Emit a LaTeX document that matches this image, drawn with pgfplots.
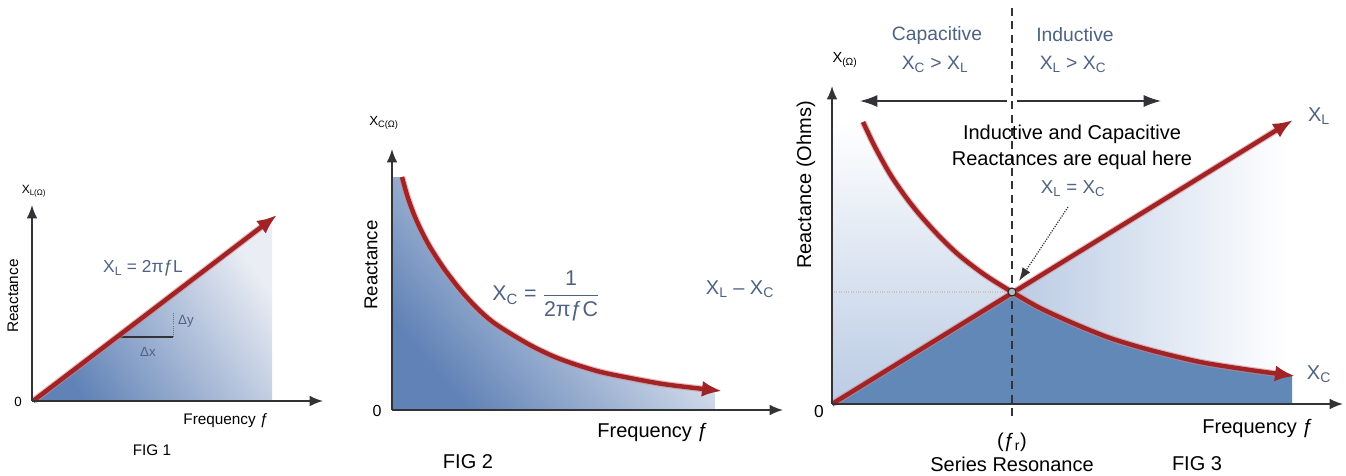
\documentclass[border=0pt]{standalone}
\usepackage{pgfplots}
\pgfplotsset{compat=1.18}
\usepackage{fontspec}
\setmainfont{Liberation Sans}
\usetikzlibrary{arrows.meta}

\definecolor{curve}{RGB}{160,36,38}
\definecolor{halo}{RGB}{220,130,135}
\definecolor{deepfill}{RGB}{98,136,184}
\definecolor{shadeblue}{RGB}{96,130,182}
\definecolor{shadelight}{RGB}{234,237,244}
\definecolor{paleblue}{RGB}{186,203,228}
\definecolor{note}{RGB}{78,98,130}
\definecolor{ink}{RGB}{45,45,48}
\definecolor{axisgray}{RGB}{50,50,55}

\newcommand\fs[1]{\fontsize{#1}{#1}\selectfont}

\begin{document}
\begin{tikzpicture}
\begin{axis}[
  width=1009.5pt, height=355.5pt, scale only axis,
  xmin=0, xmax=1346, ymin=0, ymax=474, y dir=reverse,
  hide axis, clip=false, no markers,
  every node/.append style={text=ink, inner sep=0pt},
  reactance/.style={line width=3.3pt, color=curve, -{Latex[length=15pt,width=12pt]}},
  haloline/.style={line width=5pt, color=halo, opacity=0.55, shorten >=13pt},
  axisline/.style={line width=1.2pt, color=axisgray, -{Latex[length=10pt,width=8pt]}},
]
% page extent
\addplot[draw=none] coordinates {(0,0) (1346,474)};

% ---------------- FIG 1 : inductive reactance ----------------
\addplot[draw=none, top color=shadelight, bottom color=shadeblue, shading angle=-55]
  coordinates {(33,401) (272,219) (272,401)} -- cycle;
\addplot[line width=0.8pt, color=axisgray] coordinates {(117,337) (173,337)};
\addplot[line width=0.6pt, color=axisgray!70, densely dotted] coordinates {(173,337) (173,312)};
\addplot[haloline] coordinates {(33,401) (277,215)};
\addplot[reactance] coordinates {(33,401) (277,215)};
\addplot[axisline] coordinates {(32,401) (32,205)};
\addplot[axisline] coordinates {(32,401) (323,401)};
\node[font=\fs{9}] at (axis cs:34,191) {X\textsubscript{L(Ω)}};
\node[font=\fs{11.5}, rotate=90] at (axis cs:13,296) {Reactance};
\node[font=\fs{10}] at (axis cs:18,402) {0};
\node[font=\fs{13}, text=note] at (axis cs:143,268) {X\textsubscript{L} = 2πƒL};
\node[font=\fs{10}, text=note] at (axis cs:186,321) {Δy};
\node[font=\fs{10}, text=note] at (axis cs:148,352) {Δx};
\node[font=\fs{11.5}] at (axis cs:226,421) {Frequency ƒ};
\node[font=\fs{11.5}] at (axis cs:152,450) {FIG 1};

% ---------------- FIG 2 : capacitive reactance ----------------
\addplot[draw=none, top color=white, bottom color=shadeblue, shading angle=-50]
  coordinates {(392,410) (392,177) (402,177) (407,195) (413,212) (420,228) (430,247)
    (445,270) (463,293) (480,311) (497,325) (530,345) (560,359) (597,371) (630,378)
    (663,384) (695,388) (715,390) (715,410)} -- cycle;
\addplot[haloline, smooth] coordinates {(402,177) (407,195) (413,212) (420,228) (430,247)
    (445,270) (463,293) (480,311) (497,325) (530,345) (560,359) (597,371) (630,378)
    (663,384) (695,388) (722,391)};
\addplot[reactance, smooth] coordinates {(402,177) (407,195) (413,212) (420,228) (430,247)
    (445,270) (463,293) (480,311) (497,325) (530,345) (560,359) (597,371) (630,378)
    (663,384) (695,388) (722,391)};
\addplot[axisline] coordinates {(392,410) (392,149)};
\addplot[axisline] coordinates {(392,410) (783,410)};
\node[font=\fs{10}] at (axis cs:384,123) {X\textsubscript{C(Ω)}};
\node[font=\fs{14}, rotate=90] at (axis cs:371,265) {Reactance};
\node[font=\fs{12}] at (axis cs:377,411) {0};
\node[font=\fs{16}, text=note] at (axis cs:546,296)
  {X\textsubscript{C} = $\displaystyle\frac{\hbox{1}}{\hbox{2πƒC}}$};
\node[font=\fs{15}, text=note] at (axis cs:740,289) {X\textsubscript{L} – X\textsubscript{C}};
\node[font=\fs{15}] at (axis cs:653,433) {Frequency ƒ};
\node[font=\fs{15}] at (axis cs:468,462) {FIG 2};

% ---------------- FIG 3 : series resonance ----------------
% area under the larger reactance: X_C side fades upward, X_L side fades rightward
\addplot[draw=none, top color=white, bottom color=paleblue]
  coordinates {(832,404) (832,122) (863,122) (875,147) (890,174) (905,196) (920,215)
    (940,237) (960,256) (985,275) (1012,292) (1012,404)} -- cycle;
\addplot[draw=none, left color=paleblue, right color=white]
  coordinates {(1012,404) (1012,292) (1288,123) (1288,404)} -- cycle;
% area under the smaller reactance
\addplot[draw=none, fill=deepfill]
  coordinates {(832,404) (1012,292) (1040,308) (1075,324) (1110,338) (1150,350)
    (1200,362) (1250,370) (1292,376) (1292,404)} -- cycle;
\addplot[line width=0.8pt, color=gray!45, densely dotted] coordinates {(834,292) (1012,292)};
\addplot[line width=1pt, color=axisgray, dash pattern=on 6pt off 4pt] coordinates {(1012,8) (1012,420)};
% X_L and X_C
\addplot[haloline] coordinates {(832,404) (1293,120)};
\addplot[reactance] coordinates {(832,404) (1293,120)};
\addplot[haloline, smooth] coordinates {(863,122) (875,147) (890,174) (905,196) (920,215)
    (940,237) (960,256) (985,275) (1012,292) (1040,308) (1075,324) (1110,338) (1150,350)
    (1200,362) (1250,370) (1295,376)};
\addplot[reactance, smooth] coordinates {(863,122) (875,147) (890,174) (905,196) (920,215)
    (940,237) (960,256) (985,275) (1012,292) (1040,308) (1075,324) (1110,338) (1150,350)
    (1200,362) (1250,370) (1295,376)};
\addplot[only marks, mark=*, mark size=3pt, mark options={fill=gray!55, draw=black!85, line width=0.8pt}]
  coordinates {(1012,292)};
% pointer to the crossing
\addplot[line width=0.9pt, color=black!80, densely dotted, -{Latex[length=10pt,width=7pt]}]
  coordinates {(1068,207) (1019,281)};
% capacitive / inductive regions
\addplot[line width=1.1pt, color=axisgray, -{Latex[length=13pt,width=9pt]}] coordinates {(1007,101) (860,101)};
\addplot[line width=1.1pt, color=axisgray, -{Latex[length=13pt,width=9pt]}] coordinates {(1017,101) (1161,101)};
% axes
\addplot[axisline] coordinates {(832,404) (832,86)};
\addplot[axisline] coordinates {(832,404) (1343,404)};
\node[font=\fs{11}] at (axis cs:845,60) {X\textsubscript{(Ω)}};
\node[font=\fs{15}, rotate=90] at (axis cs:806,185) {Reactance (Ohms)};
\node[font=\fs{13}] at (axis cs:819,412) {0};
\node[font=\fs{14.5}, text=note] at (axis cs:937,35) {Capacitive};
\node[font=\fs{14.5}, text=note] at (axis cs:935,64) {X\textsubscript{C} > X\textsubscript{L}};
\node[font=\fs{14.5}, text=note] at (axis cs:1075,35) {Inductive};
\node[font=\fs{14.5}, text=note] at (axis cs:1073,64) {X\textsubscript{L} > X\textsubscript{C}};
\node[font=\fs{15}] at (axis cs:1072,134) {Inductive and Capacitive};
\node[font=\fs{15}] at (axis cs:1072,160) {Reactances are equal here};
\node[font=\fs{14}, text=note] at (axis cs:1073,189) {X\textsubscript{L} = X\textsubscript{C}};
\node[font=\fs{15}, text=note] at (axis cs:1319,116) {X\textsubscript{L}};
\node[font=\fs{15}, text=note] at (axis cs:1319,374) {X\textsubscript{C}};
\node[font=\fs{15}] at (axis cs:1258,429) {Frequency ƒ};
\node[font=\fs{15}] at (axis cs:1012,442) {(ƒ\textsubscript{r})};
\node[font=\fs{15}] at (axis cs:1012,464) {Series Resonance};
\node[font=\fs{15}] at (axis cs:1197,464) {FIG 3};
\end{axis}
\end{tikzpicture}
\end{document}
